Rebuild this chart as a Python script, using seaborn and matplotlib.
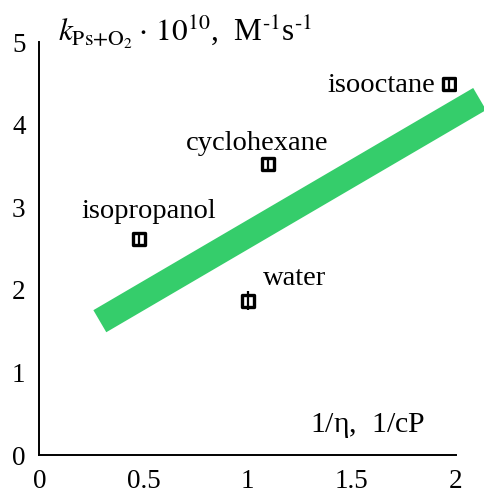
#!/usr/bin/env python3
# coding=utf-8
import matplotlib
matplotlib.use("Agg")
import pandas as pd
import seaborn as sns
from matplotlib import pyplot as plt
from matplotlib.ticker import MultipleLocator, FuncFormatter

# Data
solvents = ["isopropanol", "water", "cyclohexane", "isooctane"]
inv_viscosity = [0.48, 1.00, 1.10, 1.97]          # 1/eta, 1/cP
rate = [2.62, 1.87, 3.52, 4.49]                   # k * 1e10, M^-1 s^-1
rate_err = [0.06, 0.11, 0.07, 0.06]

# Fitted band (end points)
fit_x = [0.29, 2.115]
fit_y = [1.62, 4.31]

# Label anchors (data coordinates) and alignment
label_pos = [(0.525, 2.87), (1.075, 2.06), (1.046, 3.69), (1.90, 4.39)]
label_ha = ["center", "left", "center", "right"]

GREEN = "#35cd6b"

sns.set_style("white")
plt.rcParams["font.family"] = ["Liberation Serif", "DejaVu Serif"]
plt.rcParams["mathtext.fontset"] = "stix"
plt.rcParams["text.color"] = "black"

df = pd.DataFrame({"solvent": solvents, "x": inv_viscosity,
                   "y": rate, "err": rate_err})
fit = pd.DataFrame({"x": fit_x, "y": fit_y})

fig = plt.figure(figsize=(4.85, 4.88), dpi=100)
ax = fig.add_axes([0.0814, 0.0676, 0.8582, 0.8463])

# green band
sns.lineplot(data=fit, x="x", y="y", ax=ax, color=GREEN,
             linewidth=18.4, solid_capstyle="butt", zorder=1)
for ln in ax.lines:
    ln.set_clip_on(False)

# points with error bars
ax.errorbar(df["x"], df["y"], yerr=df["err"], fmt="none", ecolor="black",
            elinewidth=1.6, capsize=0, zorder=3)
sns.scatterplot(data=df, x="x", y="y", ax=ax, marker="s", s=80,
                facecolor="white", edgecolor="black", linewidth=2.4,
                zorder=2)

for name, (tx, ty), ha in zip(solvents, label_pos, label_ha):
    ax.text(tx, ty, name, ha=ha, va="baseline", fontsize=20.5)

ax.set_xlim(0, 2)
ax.set_ylim(0, 5)
ax.set_xlabel("")
ax.set_ylabel("")
sns.despine(ax=ax)
for side in ["left", "bottom"]:
    ax.spines[side].set_linewidth(1.4)
    ax.spines[side].set_color("black")

ax.xaxis.set_major_locator(MultipleLocator(0.5))
ax.xaxis.set_minor_locator(MultipleLocator(0.1))
ax.yaxis.set_major_locator(MultipleLocator(1))
ax.yaxis.set_minor_locator(MultipleLocator(0.5))
ax.xaxis.set_major_formatter(FuncFormatter(lambda v, _: f"{v:g}"))
ax.tick_params(which="both", direction="in", colors="black", width=1.2,
               labelsize=19.5)
ax.tick_params(which="major", length=7, pad=10)
ax.tick_params(which="minor", length=4)

ax.text(0.089, 5.0,
        r"$k_{\mathrm{Ps{+}O_2}}\cdot\, 10^{10}$,  M$^{\text{-1}}$s$^{\text{-1}}$",
        ha="left", va="baseline", fontsize=22.5)
ax.text(1.853, 0.28, r"1/$\mathregular{\eta}$,  1/cP", ha="right",
        va="baseline", fontsize=21.5)

fig.savefig("out.png", dpi=100)
